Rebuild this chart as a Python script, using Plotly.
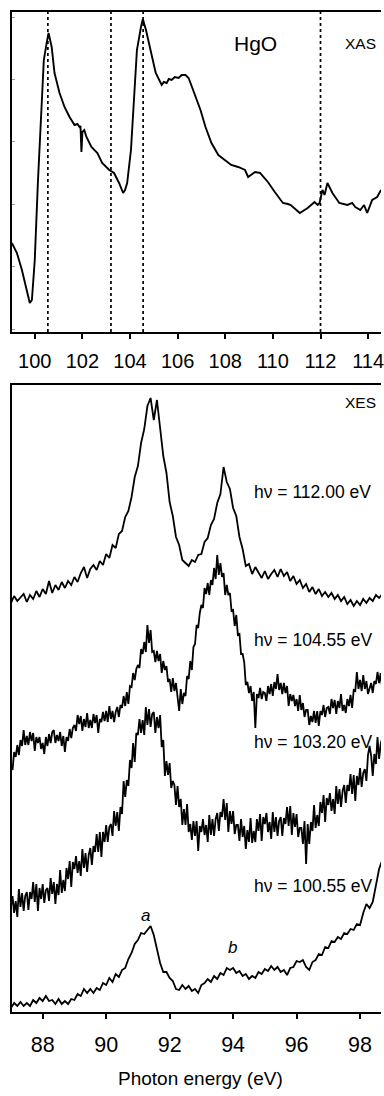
import numpy as np
import plotly.graph_objects as go

# ---------------- XAS spectrum of HgO (upper panel) ----------------
xas_energy = [99.04, 99.25, 99.46, 99.58, 99.75, 99.79, 99.88, 100.00, 100.13, 100.29,
              100.38, 100.50, 100.58, 100.71, 100.83, 101.04, 101.25, 101.46, 101.67, 101.79,
              101.88, 101.92, 101.96, 102.00, 102.08, 102.17, 102.38, 102.63, 102.83, 103.13,
              103.33, 103.54, 103.71, 103.79, 103.88, 104.04, 104.17, 104.29, 104.46, 104.54,
              104.67, 104.88, 105.08, 105.33, 105.42, 105.54, 105.63, 105.75, 105.88, 106.04,
              106.17, 106.33, 106.46, 106.54, 106.75, 106.96, 107.17, 107.42, 107.71, 108.00,
              108.25, 108.54, 108.83, 108.96, 109.08, 109.25, 109.46, 109.79, 110.08, 110.42,
              110.63, 110.75, 111.13, 111.46, 111.75, 111.88, 111.96, 112.08, 112.17, 112.29,
              112.50, 112.79, 113.13, 113.33, 113.46, 113.67, 113.83, 113.96, 114.17, 114.38,
              114.54]
xas_intensity = [89, 79, 62, 49, 30, 29, 32, 72, 149, 232,
                 272, 289, 299, 285, 259, 239, 225, 215, 207, 208,
                 205, 206, 180, 200, 202, 195, 185, 179, 169, 162,
                 159, 149, 139, 142, 149, 182, 232, 282, 305, 313,
                 302, 279, 259, 247, 250, 249, 253, 252, 255, 254,
                 257, 257, 254, 249, 235, 222, 205, 189, 177, 172,
                 167, 165, 162, 155, 157, 160, 159, 150, 140, 129,
                 128, 127, 119, 124, 130, 127, 129, 142, 137, 149,
                 139, 129, 127, 129, 125, 122, 127, 119, 132, 135,
                 142]

# excitation energies used for the emission spectra (eV)
excitation_energies = [100.55, 103.20, 104.55, 112.00]

# ---------------- XES spectra (lower panel) ----------------
# spectrometer channel grids (eV)
xes_energy_coarse = np.round(87.0 + 0.1 * np.arange(118), 2)
xes_energy_fine = np.round(87.0 + 0.05 * np.arange(235), 2)

xes_112_00 = [409, 416, 411, 414, 418, 410, 417, 413, 421, 415,
              423, 418, 431, 419, 427, 422, 430, 424, 431, 427,
              435, 430, 439, 445, 434, 443, 447, 442, 451, 447,
              458, 454, 467, 464, 478, 481, 495, 501, 515, 535,
              546, 569, 583, 606, 614, 592, 612, 584, 556, 539,
              510, 496, 475, 467, 452, 449, 446, 452, 450, 457,
              458, 470, 474, 487, 493, 509, 518, 545, 530, 523,
              504, 496, 475, 463, 446, 448, 438, 445, 440, 434,
              441, 433, 438, 442, 435, 443, 436, 440, 431, 436,
              428, 432, 424, 428, 420, 425, 418, 423, 416, 420,
              415, 419, 413, 417, 411, 415, 408, 412, 406, 411,
              407, 413, 409, 414, 411, 417, 414, 418]

xes_104_55 = [247, 242, 260, 255, 267, 257, 272, 266, 282, 267,
              276, 267, 280, 271, 279, 261, 275, 269, 275, 263,
              269, 258, 275, 266, 278, 269, 280, 282, 269, 277,
              271, 280, 266, 276, 260, 275, 271, 283, 274, 284,
              287, 281, 297, 288, 296, 281, 293, 285, 299, 284,
              292, 284, 298, 289, 297, 279, 293, 290, 300, 291,
              301, 290, 306, 293, 301, 290, 300, 305, 295, 307,
              304, 316, 306, 320, 308, 326, 325, 339, 332, 343,
              347, 344, 363, 358, 370, 360, 387, 369, 382, 360,
              361, 350, 361, 351, 358, 339, 351, 342, 346, 330,
              333, 320, 334, 321, 329, 316, 301, 323, 308, 319,
              316, 336, 333, 351, 342, 365, 368, 387, 384, 399,
              407, 404, 424, 418, 429, 417, 432, 427, 444, 433,
              457, 437, 449, 435, 439, 417, 427, 417, 419, 401,
              402, 386, 397, 377, 378, 358, 358, 350, 327, 330,
              319, 326, 311, 320, 284, 318, 314, 324, 313, 320,
              319, 311, 326, 318, 328, 316, 330, 323, 338, 322,
              329, 318, 329, 319, 326, 306, 318, 311, 317, 306,
              313, 301, 317, 302, 309, 295, 302, 302, 287, 296,
              290, 301, 289, 301, 286, 301, 297, 307, 295, 304,
              305, 298, 313, 304, 312, 298, 311, 304, 318, 301,
              307, 299, 313, 306, 317, 304, 322, 321, 340, 323,
              332, 321, 337, 323, 331, 318, 325, 329, 319, 331,
              328, 340, 329, 339, 322]

xes_103_20 = [105, 116, 99, 111, 95, 123, 105, 119, 101, 116,
              120, 102, 120, 113, 130, 110, 128, 101, 124, 113,
              128, 109, 122, 124, 111, 134, 118, 130, 108, 128,
              117, 142, 119, 132, 121, 144, 133, 151, 125, 150,
              143, 156, 139, 151, 136, 163, 144, 159, 140, 157,
              164, 147, 166, 160, 178, 160, 180, 155, 180, 170,
              187, 170, 185, 188, 176, 201, 186, 200, 181, 205,
              198, 231, 215, 232, 226, 252, 244, 269, 250, 279,
              277, 293, 279, 292, 277, 305, 287, 303, 285, 298,
              300, 279, 295, 284, 297, 265, 272, 236, 251, 237,
              249, 224, 231, 227, 207, 226, 205, 213, 187, 203,
              187, 208, 180, 188, 172, 191, 176, 191, 161, 186,
              180, 193, 177, 187, 170, 197, 177, 193, 176, 193,
              199, 181, 200, 195, 213, 192, 209, 180, 201, 188,
              201, 178, 187, 187, 171, 193, 175, 186, 163, 182,
              170, 194, 169, 181, 170, 193, 181, 198, 171, 195,
              188, 199, 180, 190, 173, 200, 180, 195, 176, 191,
              195, 176, 194, 188, 205, 186, 206, 177, 199, 185,
              198, 175, 184, 184, 168, 191, 148, 188, 168, 190,
              181, 207, 184, 197, 186, 210, 199, 217, 190, 214,
              207, 219, 201, 213, 198, 226, 208, 223, 205, 221,
              227, 209, 227, 221, 238, 218, 237, 211, 236, 227,
              244, 225, 239, 243, 231, 257, 266, 256, 236, 258,
              248, 275, 253, 268, 274]

xes_100_55 = [4, 9, 6, 10, 6, 9, 6, 12, 9, 14,
              11, 16, 11, 12, 8, 13, 8, 11, 8, 13,
              12, 18, 16, 23, 19, 23, 19, 24, 22, 29,
              27, 34, 30, 38, 35, 42, 44, 53, 59, 68,
              72, 79, 78, 82, 86, 77, 62, 49, 40, 40,
              34, 31, 23, 22, 27, 23, 26, 21, 23, 19,
              27, 29, 33, 30, 36, 33, 39, 37, 44, 42,
              44, 39, 41, 36, 38, 33, 36, 34, 40, 38,
              43, 41, 46, 42, 45, 40, 42, 37, 44, 45,
              51, 50, 52, 45, 42, 50, 52, 58, 57, 65,
              64, 71, 70, 75, 73, 79, 78, 83, 82, 88,
              87, 99, 108, 104, 110, 125, 143, 152]

xes_series = [
    (xes_energy_coarse, xes_112_00, 112.00),
    (xes_energy_fine, xes_104_55, 104.55),
    (xes_energy_fine, xes_103_20, 103.20),
    (xes_energy_coarse, xes_100_55, 100.55),
]
# label anchor heights (arb. units) for each spectrum, keyed by excitation energy
label_heights = {112.00: 520, 104.55: 372, 103.20: 270, 100.55: 126}

FONT = "Liberation Sans, Arial, sans-serif"
INK = "black"

fig = go.Figure()

fig.add_trace(go.Scatter(x=xas_energy, y=xas_intensity, mode="lines",
                         line=dict(color=INK, width=1.9),
                         xaxis="x", yaxis="y", showlegend=False))

for e in excitation_energies:
    fig.add_shape(type="line", xref="x", yref="y domain", x0=e, x1=e, y0=0, y1=1,
                  line=dict(color=INK, width=1.7, dash="dot"))

for energy, counts, hv in xes_series:
    fig.add_trace(go.Scatter(x=energy, y=counts, mode="lines",
                             line=dict(color=INK, width=1.8),
                             xaxis="x2", yaxis="y2", showlegend=False))
    fig.add_annotation(x=94.59, y=label_heights[hv], xref="x2", yref="y2",
                       text=f"hν = {hv:.2f} eV", showarrow=False,
                       xanchor="left", yanchor="middle",
                       font=dict(family=FONT, size=17.5, color=INK))

# panel labels
fig.add_annotation(x=109.29, y=289, xref="x", yref="y", text="HgO", showarrow=False,
                   font=dict(family=FONT, size=21, color=INK))
fig.add_annotation(x=113.67, y=289, xref="x", yref="y", text="XAS", showarrow=False,
                   font=dict(family=FONT, size=15.5, color=INK))
fig.add_annotation(x=98.0, y=610, xref="x2", yref="y2", text="XES", showarrow=False,
                   font=dict(family=FONT, size=15.5, color=INK))
# peak markers on the 100.55 eV spectrum
fig.add_annotation(x=91.25, y=97, xref="x2", yref="y2", text="<i>a</i>", showarrow=False,
                   font=dict(family=FONT, size=17, color=INK))
fig.add_annotation(x=93.97, y=65, xref="x2", yref="y2", text="<i>b</i>", showarrow=False,
                   font=dict(family=FONT, size=17, color=INK))
# common x-axis title
fig.add_annotation(x=0.526, y=0.0164, xref="paper", yref="paper",
                   text="Photon energy (eV)", showarrow=False,
                   xanchor="center", yanchor="middle",
                   font=dict(family=FONT, size=19, color=INK))

x_common = dict(showline=True, linewidth=2, linecolor=INK, mirror=True,
                ticks="outside", ticklen=5, tickwidth=2, tickcolor=INK,
                showgrid=False, zeroline=False, dtick=2, ticklabeloverflow="allow")
y_common = dict(showline=True, linewidth=2, linecolor=INK, mirror=False,
                showgrid=False, zeroline=False, showticklabels=False)

fig.update_layout(
    width=384, height=1096,
    margin=dict(l=0, r=0, t=0, b=0),
    paper_bgcolor="white", plot_bgcolor="white",
    font=dict(family=FONT, color=INK),
    xaxis=dict(domain=[0.03125, 1.0], anchor="y", range=[99.04, 114.54], tick0=100,
               tickfont=dict(size=20), ticklabelstandoff=5, **x_common),
    yaxis=dict(domain=[0.6971, 0.98905], anchor="x", range=[0, 320],
               ticks="inside", ticklen=3, tickwidth=1, tickcolor="#9a9a9a",
               tick0=2.5, dtick=62.5, **y_common),
    xaxis2=dict(domain=[0.03125, 1.0], anchor="y2", range=[87.03, 98.66], tick0=88,
                tickfont=dict(size=21.5), ticklabelstandoff=7, **x_common),
    yaxis2=dict(domain=[0.07664, 0.64872], anchor="x2", range=[0, 627],
                ticks="", **y_common),
)

fig.write_html("out.html")
